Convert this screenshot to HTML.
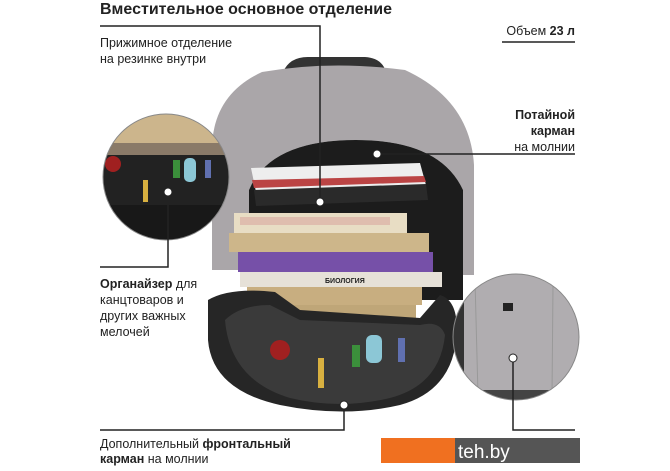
<!DOCTYPE html>
<html><head><meta charset="utf-8"><style>
html,body{margin:0;padding:0;background:#fff;width:670px;height:471px;overflow:hidden}
svg{display:block}
text{font-family:"Liberation Sans","DejaVu Sans",sans-serif;fill:#222}
</style></head><body>
<svg width="670" height="471" viewBox="0 0 670 471" xmlns="http://www.w3.org/2000/svg">
<defs>
<clipPath id="lc"><circle cx="166" cy="177" r="63"/></clipPath>
<clipPath id="rc"><circle cx="516" cy="337" r="63"/></clipPath>
</defs>
<!-- handle -->
<path d="M283 72 Q290 56 310 57 L365 57 Q382 58 386 72 Z" fill="#333"/>
<!-- lid -->
<path d="M212 270 L212 150 Q212 95 262 72 Q330 60 405 70 Q470 100 474 165 L474 275 L463 275 L463 190 Q440 140 356 140 Q270 140 249 190 L249 270 Z" fill="#aaa6a9"/>
<!-- interior -->
<path d="M249 300 L249 190 Q270 140 356 140 Q440 140 463 190 L463 300 Z" fill="#1c1c1c"/>
<!-- notebooks -->
<path d="M251 168 L420 163 L426 185 L256 192 Z" fill="#eee"/>
<path d="M252 180 L424 176 L426 182 L254 188 Z" fill="#b44"/>
<path d="M254 190 L426 184 L428 200 L256 206 Z" fill="#2a2a2a"/>
<!-- books -->
<rect x="234" y="213" width="173" height="20" fill="#e8ddc4"/>
<rect x="240" y="217" width="150" height="8" fill="#d9a9a0" opacity=".6"/>
<rect x="229" y="233" width="200" height="19" fill="#cdb68a"/>
<rect x="238" y="252" width="195" height="20" fill="#7650a8"/>
<rect x="240" y="272" width="202" height="15" fill="#e6e1d8"/>
<text x="325" y="283" font-size="7" font-weight="bold" fill="#555">БИОЛОГИЯ</text>
<rect x="247" y="287" width="175" height="18" fill="#c8ae80"/>
<rect x="277" y="305" width="139" height="13" fill="#bfa678"/>
<!-- front flap -->
<path d="M208 300 Q230 287 275 292 L300 310 L420 318 L440 295 Q457 300 457 330 Q455 390 400 405 Q344 418 280 405 Q212 390 208 340 Z" fill="#262626"/>
<path d="M225 320 Q240 305 270 305 L300 320 L420 325 Q440 320 445 335 Q440 385 390 398 Q340 410 290 398 Q230 380 225 320Z" fill="#3a3a3a"/>
<rect x="318" y="358" width="6" height="30" fill="#d8b040"/>
<rect x="352" y="345" width="8" height="22" fill="#3b8f3b"/>
<rect x="366" y="335" width="16" height="28" rx="6" fill="#8cc7d6"/>
<rect x="398" y="338" width="7" height="24" fill="#6070b0"/>
<circle cx="280" cy="350" r="10" fill="#a02020"/>
<!-- left circle -->
<g clip-path="url(#lc)">
<rect x="100" y="110" width="135" height="140" fill="#222"/>
<rect x="100" y="113" width="135" height="30" fill="#ccb58c"/>
<rect x="100" y="143" width="135" height="12" fill="#8a7a68"/>
<circle cx="113" cy="164" r="8" fill="#a02020"/>
<rect x="143" y="180" width="5" height="22" fill="#d8b040"/>
<rect x="173" y="160" width="7" height="18" fill="#3b8f3b"/>
<rect x="184" y="158" width="12" height="24" rx="5" fill="#8cc7d6"/>
<rect x="205" y="160" width="6" height="18" fill="#6070b0"/>
<rect x="100" y="205" width="135" height="40" fill="#181818"/>
</g>
<circle cx="166" cy="177" r="63" fill="none" stroke="#888" stroke-width="1"/>
<!-- right circle -->
<g clip-path="url(#rc)">
<rect x="450" y="270" width="135" height="140" fill="#b0adb0"/>
<rect x="450" y="270" width="14" height="140" fill="#333"/>
<rect x="503" y="303" width="10" height="8" fill="#222"/>
<path d="M475 280 L478 395 M553 285 L552 395" stroke="#999" fill="none"/>
<rect x="450" y="390" width="135" height="20" fill="#444"/>
</g>
<circle cx="516" cy="337" r="63" fill="none" stroke="#888" stroke-width="1"/>
<!-- lines -->
<g stroke="#222" stroke-width="1.5" fill="none">
<path d="M100 26 L320 26 L320 202"/>
<path d="M502 42 L575 42"/>
<path d="M377 154 L575 154"/>
<path d="M168 192 L168 267 L100 267"/>
<path d="M344 405 L344 430 L100 430"/>
<path d="M513 358 L513 430 L575 430"/>
</g>
<g fill="#fff" stroke="#222" stroke-width="1">
<circle cx="320" cy="202" r="4"/><circle cx="377" cy="154" r="4"/>
<circle cx="168" cy="192" r="4"/><circle cx="344" cy="405" r="4"/>
<circle cx="513" cy="358" r="4"/>
</g>
<!-- texts -->
<text x="100" y="14" font-size="15.5" font-weight="bold" textLength="292" lengthAdjust="spacingAndGlyphs">Вместительное основное  отделение</text>
<text x="100" y="47" font-size="12.5" fill="#333">Прижимное отделение</text>
<text x="100" y="63" font-size="12.5" fill="#333">на резинке внутри</text>
<text x="575" y="35" font-size="12.5" text-anchor="end">Объем <tspan font-weight="bold">23 л</tspan></text>
<text x="575" y="119" font-size="12.5" font-weight="bold" text-anchor="end">Потайной</text>
<text x="575" y="135" font-size="12.5" font-weight="bold" text-anchor="end">карман</text>
<text x="575" y="151" font-size="12.5" text-anchor="end">на молнии</text>
<text x="100" y="288" font-size="12.5"><tspan font-weight="bold">Органайзер</tspan> для</text>
<text x="100" y="304" font-size="12.5">канцтоваров и</text>
<text x="100" y="320" font-size="12.5">других важных</text>
<text x="100" y="336" font-size="12.5">мелочей</text>
<text x="100" y="448" font-size="12.5">Дополнительный <tspan font-weight="bold">фронтальный</tspan></text>
<text x="100" y="463" font-size="12.5"><tspan font-weight="bold">карман</tspan> на молнии</text>
<!-- logo -->
<rect x="381" y="438" width="74" height="25" fill="#f07020"/>
<rect x="455" y="438" width="125" height="25" fill="#555"/>
<text x="458" y="458" font-size="19" style="fill:#fff">teh.by</text>
</svg>
</body></html>
